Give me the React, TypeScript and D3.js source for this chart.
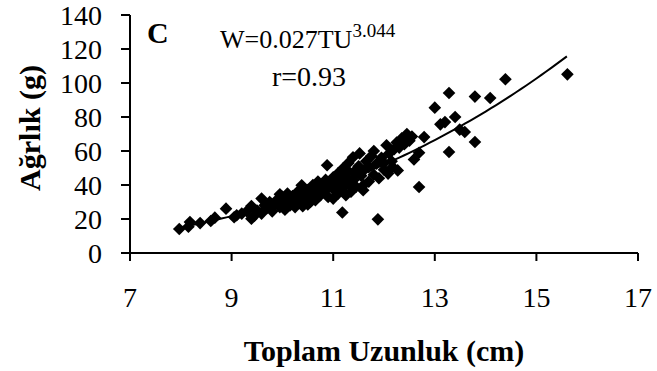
import React from "react";
import * as d3 from "d3";

// Total length (cm)
const lengths = [
  7.97, 8.18, 8.15, 8.38, 8.59, 8.67, 8.89, 9.1, 9.2, 9.05, 9.39, 9.39, 9.3, 9.5, 9.59, 9.59,
  9.65, 9.7, 9.75, 9.8, 9.85, 9.9, 9.95, 10.0, 10.0, 10.05, 10.1, 10.1, 10.15, 10.2, 10.2, 10.25,
  10.3, 10.3, 10.35, 10.38, 10.4, 10.45, 10.5, 10.5, 10.55, 10.6, 10.6, 10.65, 10.7, 10.7, 10.75,
  10.8, 10.8, 10.85, 10.88, 10.9, 10.9, 10.95, 11.0, 11.0, 11.0, 11.05, 11.1, 11.1, 11.15, 11.18,
  11.2, 11.2, 11.25, 11.3, 11.3, 11.35, 11.39, 11.4, 11.4, 11.45, 11.5, 11.52, 11.55, 11.59, 11.6,
  11.65, 11.7, 11.7, 11.75, 11.8, 11.8, 11.85, 11.88, 11.9, 11.95, 12.0, 12.05, 12.08, 12.1, 12.15,
  12.17, 12.2, 12.25, 12.27, 12.3, 12.35, 12.4, 12.45, 12.5, 12.55, 12.59, 12.69, 12.79, 12.69,
  13.0, 13.11, 13.2, 13.28, 13.28, 13.4, 13.49, 13.59, 13.79, 13.79, 14.09, 14.39, 15.61,
  9.95, 10.55, 10.85, 11.25, 11.6, 12.0, 11.3, 10.4, 9.45,
];

// Weight (g)
const weights = [
  14.1, 18.2, 15.5, 17.6, 18.8, 20.8, 26.1, 22.2, 23.2, 21.0, 20.2, 27.6, 24.5, 25.0, 32.0, 23.2,
  28.0, 26.5, 30.0, 24.5, 28.5, 31.5, 27.0, 33.0, 29.0, 25.5, 31.0, 35.0, 28.0, 33.5, 30.0, 27.0,
  36.0, 32.0, 29.5, 39.8, 34.0, 31.0, 37.0, 28.5, 33.5, 40.0, 35.5, 31.0, 38.0, 42.0, 34.0,
  40.5, 36.5, 43.0, 51.6, 38.5, 33.0, 41.0, 32.0, 44.5, 37.5, 40.0, 47.0, 35.0, 42.5, 23.8,
  38.5, 50.0, 45.0, 41.0, 53.0, 36.0, 56.3, 47.5, 43.0, 39.0, 51.0, 58.6, 45.5, 36.9, 48.5,
  54.0, 42.0, 50.5, 57.0, 46.0, 60.0, 52.5, 19.8, 44.0, 56.0, 49.0, 63.4, 46.7, 58.5, 54.0,
  50.6, 61.0, 65.0, 48.6, 62.0, 67.5, 64.0, 70.0, 66.0, 68.5, 55.0, 59.0, 68.2, 38.8,
  85.5, 75.7, 77.0, 94.1, 59.4, 80.0, 72.6, 71.2, 92.0, 65.3, 91.2, 102.2, 105.1,
  34.5, 30.0, 37.0, 34.0, 40.0, 53.0, 48.0, 27.5, 22.0,
];

const xTicks = [7, 9, 11, 13, 15, 17];
const yTicks = [0, 20, 40, 60, 80, 100, 120, 140];

// fitted model W = a * TU^b
const coefA = 0.027;
const coefB = 3.044;
const fitStart = 8.0;
const fitEnd = 15.6;

const W = 657;
const H = 371;
const FONT = "'Liberation Serif', 'Times New Roman', serif";

export default function App() {
  const x = d3.scaleLinear().domain([7, 17]).range([130, 638]);
  const y = d3.scaleLinear().domain([0, 140]).range([253, 15]);

  const fitXs = d3.range(fitStart, fitEnd + 0.0001, 0.1);
  const fitLine = d3
    .line<number>()
    .x((d) => x(d))
    .y((d) => y(coefA * Math.pow(d, coefB)))(fitXs) as string;

  const diamond = d3.symbol().type(d3.symbolSquare).size(80)() as string;

  return (
    <svg
      width={W}
      height={H}
      style={{ position: "absolute", left: 0, top: 0, background: "#fff" }}
      fontFamily={FONT}
    >
      {/* points */}
      {lengths.map((l, i) => (
        <path
          key={i}
          d={diamond}
          transform={`translate(${x(l)},${y(weights[i])}) rotate(45)`}
          fill="#000"
        />
      ))}
      {/* fit line */}
      <path d={fitLine} fill="none" stroke="#000" strokeWidth={2} />

      {/* y axis */}
      <line x1={x(7)} x2={x(7)} y1={y(0)} y2={y(140)} stroke="#000" strokeWidth={2} />
      {yTicks.map((t) => (
        <g key={t}>
          <line x1={x(7) - 9} x2={x(7)} y1={y(t)} y2={y(t)} stroke="#000" strokeWidth={2} />
          <text x={x(7) - 28} y={y(t)} dy="0.35em" textAnchor="end" fontSize={28}>
            {t}
          </text>
        </g>
      ))}
      {/* x axis */}
      <line x1={x(7)} x2={x(17)} y1={y(0)} y2={y(0)} stroke="#000" strokeWidth={2} />
      {xTicks.map((t) => (
        <g key={t}>
          <line x1={x(t)} x2={x(t)} y1={y(0)} y2={y(0) + 8} stroke="#000" strokeWidth={2} />
          <text x={x(t)} y={307} textAnchor="middle" fontSize={28}>
            {t}
          </text>
        </g>
      ))}

      {/* axis titles */}
      <text x={384} y={361} textAnchor="middle" fontSize={30} fontWeight="bold">
        Toplam Uzunluk (cm)
      </text>
      <text
        transform={`translate(40,128) rotate(-90)`}
        textAnchor="middle"
        fontSize={30}
        fontWeight="bold"
      >
        Ağrlık (g)
      </text>

      {/* annotations */}
      <text x={147} y={43} fontSize={30} fontWeight="bold">
        C
      </text>
      <text x={220} y={48} fontSize={26}>
        W=0.027TU
        <tspan dy={-11} fontSize={19}>
          3.044
        </tspan>
      </text>
      <text x={272} y={86} fontSize={28}>
        r=0.93
      </text>
    </svg>
  );
}
